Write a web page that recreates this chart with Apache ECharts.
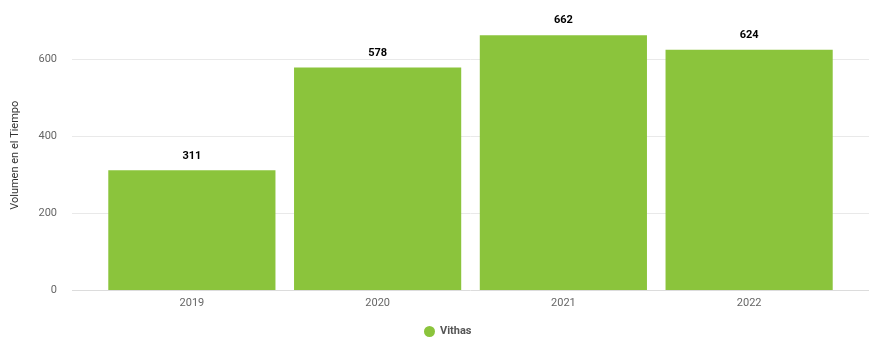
<!DOCTYPE html>
<html><head><meta charset="utf-8">
<script src="https://cdn.jsdelivr.net/npm/echarts@6/dist/echarts.min.js"></script>
<style>html,body{margin:0;padding:0;background:#fff}#c{width:869px;height:352px}</style>
</head><body><div id="c"></div>
<script>
const categories = ['2019', '2020', '2021', '2022'];
const seriesName = 'Vithas';
const values = [311, 578, 662, 624];
const yTicks = [0, 200, 400, 600];

const chart = echarts.init(document.getElementById('c'), null, {renderer: 'canvas'});
const font = 'Roboto, "Open Sans", sans-serif';
chart.setOption({
  animation: false,
  legend: {
    bottom: 10, left: 419, icon: 'circle', itemWidth: 11, itemHeight: 11,
    textStyle: {color: '#555', fontSize: 11, fontWeight: 'bold', fontFamily: font},
    data: [seriesName]
  },
  grid: [
    {left: 72, right: 0, top: 20.5, bottom: 62, containLabel: false},
    {left: 99, right: 27, top: 20.5, bottom: 62, containLabel: false}
  ],
  xAxis: [
    {gridIndex: 0, type: 'category', data: categories, show: false},
    {gridIndex: 1, type: 'category', data: categories,
     axisLine: {show: false}, axisTick: {show: false},
     axisLabel: {color: '#666', fontSize: 11, fontFamily: font, margin: 8}}
  ],
  yAxis: [
    {gridIndex: 0, type: 'value', min: 0, max: 700, interval: 100,
     name: 'Volumen en el Tiempo', nameLocation: 'middle', nameGap: 51, nameRotate: 90,
     nameTextStyle: {color: '#333', fontSize: 11, fontFamily: font},
     axisLine: {show: false}, axisTick: {show: false},
     axisLabel: {color: '#666', fontSize: 11, fontFamily: font, margin: 15,
       formatter: v => yTicks.includes(v) ? String(v) : ''},
     splitLine: {show: false}},
    {gridIndex: 1, type: 'value', min: 0, max: 700, show: false, splitLine: {show: false}}
  ],
  series: [
    {type: 'line', xAxisIndex: 0, yAxisIndex: 0, data: [], silent: true, z: 0,
     markLine: {symbol: 'none', silent: true, label: {show: false}, z: 0,
       lineStyle: {color: '#e9e9e9', type: 'solid', width: 1},
       data: yTicks.map(v => ({yAxis: v, lineStyle: v === 0 ? {color: '#dcdcdc'} : undefined}))}},
    {name: seriesName, type: 'bar', xAxisIndex: 1, yAxisIndex: 1, data: values, z: 5,
     barCategoryGap: '10%', itemStyle: {color: '#8bc43c'},
     label: {show: true, position: 'top', distance: 9, color: '#000', fontWeight: 'bold', fontSize: 11, fontFamily: font}}
  ]
});
</script></body></html>
